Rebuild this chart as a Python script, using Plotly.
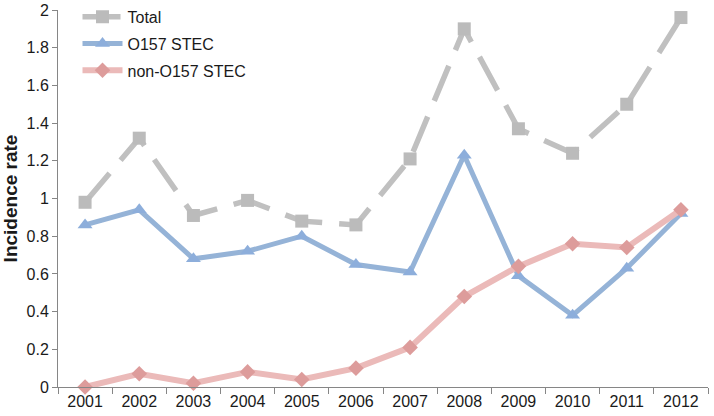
import plotly.graph_objects as go

years = ["2001", "2002", "2003", "2004", "2005", "2006", "2007", "2008", "2009", "2010", "2011", "2012"]
total = [0.98, 1.32, 0.91, 0.99, 0.88, 0.86, 1.21, 1.90, 1.37, 1.24, 1.50, 1.96]
o157 = [0.86, 0.94, 0.68, 0.72, 0.80, 0.65, 0.61, 1.23, 0.59, 0.38, 0.63, 0.92]
non_o157 = [0.0, 0.07, 0.02, 0.08, 0.04, 0.10, 0.21, 0.48, 0.64, 0.76, 0.74, 0.94]
y_ticks = [0, 0.2, 0.4, 0.6, 0.8, 1, 1.2, 1.4, 1.6, 1.8, 2]
y_tick_text = ["0", "0.2", "0.4", "0.6", "0.8", "1", "1.2", "1.4", "1.6", "1.8", "2"]

fig = go.Figure()
fig.add_trace(go.Scatter(
    x=years, y=total, name="Total", mode="lines+markers", legendgroup="a",
    line=dict(color="#C0C0C0", width=5.5, dash="38px,17px"),
    marker=dict(symbol="square", size=13, color="#BBBBBB"),
    cliponaxis=False))
fig.add_trace(go.Scatter(
    x=years, y=o157, name="O157 STEC", mode="lines+markers", legendgroup="b",
    line=dict(color="#95B3D7", width=5),
    marker=dict(symbol="triangle-up", size=13, color="#8DAEDB"),
    cliponaxis=False))
fig.add_trace(go.Scatter(
    x=years, y=non_o157, name="non-O157 STEC", mode="lines+markers", legendgroup="c",
    line=dict(color="#EBBAB9", width=6),
    marker=dict(symbol="diamond", size=12, color="#DD9C9B"),
    cliponaxis=False))

fig.update_layout(
    width=714, height=416,
    margin=dict(l=58, r=6, t=10, b=29, autoexpand=False),
    paper_bgcolor="white", plot_bgcolor="white",
    font=dict(family="Liberation Sans, Arial, sans-serif", size=16, color="#1a1a1a"),
    showlegend=True,
    legend=dict(x=0.03, y=1.027, xanchor="left", yanchor="top",
                bgcolor="rgba(0,0,0,0)", font=dict(size=16),
                itemwidth=40, tracegroupgap=3),
)
fig.update_xaxes(
    type="category", showgrid=False, showline=True, linecolor="#868686", linewidth=1,
    ticks="outside", tickson="boundaries", ticklen=6, tickcolor="#868686",
    tickfont=dict(size=16), range=[-0.5, 11.5], automargin=False)
fig.update_yaxes(
    range=[0, 2], tickvals=y_ticks, ticktext=y_tick_text, showgrid=False,
    showline=True, linecolor="#868686", linewidth=1, ticks="outside", ticklen=5,
    tickcolor="#868686", tickfont=dict(size=16), zeroline=False, automargin=False,
    title=dict(text="<b>Incidence rate</b>", font=dict(size=19), standoff=5))

fig.write_html("out.html", config={"displayModeBar": False},
               post_script="document.body.style.margin='0';document.body.style.overflow='hidden';")
